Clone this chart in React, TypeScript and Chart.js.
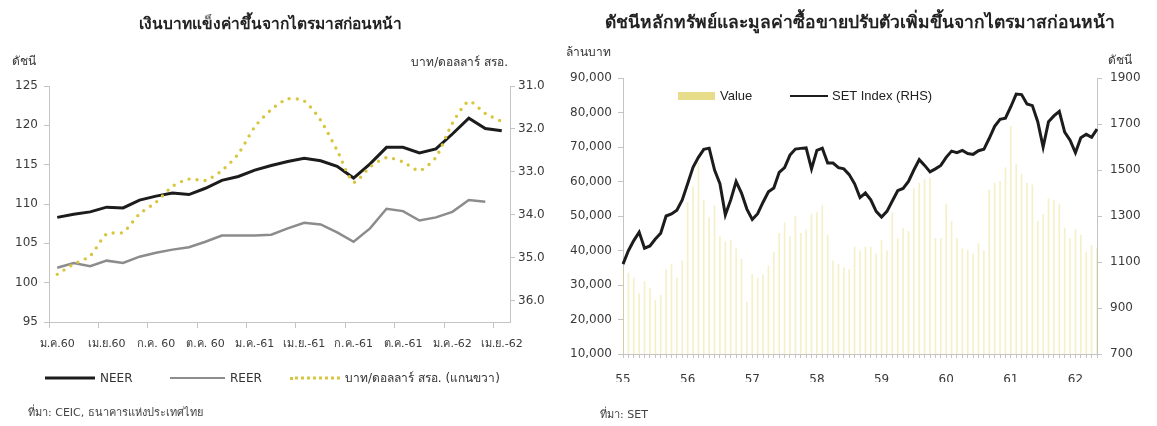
import React, { useEffect, useRef } from 'react';
import { Chart, registerables } from 'chart.js';
Chart.register(...registerables);

// ---------- Left chart data (monthly, Jan 2017 - Apr 2019) ----------
const leftMonths = [
  '2560-01','2560-02','2560-03','2560-04','2560-05','2560-06','2560-07','2560-08','2560-09','2560-10','2560-11','2560-12',
  '2561-01','2561-02','2561-03','2561-04','2561-05','2561-06','2561-07','2561-08','2561-09','2561-10','2561-11','2561-12',
  '2562-01','2562-02','2562-03','2562-04',
];
const leftTickLabels = ['ม.ค.60','เม.ย.60','ก.ค. 60','ต.ค. 60','ม.ค.-61','เม.ย.-61','ก.ค.-61','ต.ค.-61','ม.ค.-62','เม.ย.-62'];
const neer = [108.3,108.7,109.0,109.6,109.5,110.5,111.0,111.4,111.2,112.0,113.0,113.5,114.3,114.9,115.4,115.8,115.5,114.8,113.3,115.1,117.2,117.2,116.5,117.0,118.9,120.9,119.6,119.3];
const reer = [101.9,102.5,102.1,102.8,102.5,103.3,103.8,104.2,104.5,105.2,106.0,106.0,106.0,106.1,106.9,107.6,107.4,106.4,105.2,106.9,109.4,109.1,107.9,108.3,109.0,110.5,110.3,null];
const bahtUsd = [35.39,35.15,34.96,34.45,34.41,33.98,33.71,33.34,33.17,33.20,32.97,32.58,31.95,31.55,31.30,31.35,31.80,32.50,33.24,32.89,32.67,32.77,32.97,32.66,31.87,31.36,31.64,31.83];

// ---------- Right chart data (monthly, Jan 2555 - May 2562) ----------
const yearLabels = ['55','56','57','58','59','60','61','62'];
const monthNums = ['01','02','03','04','05','06','07','08','09','10','11','12'];
const tradeValue = [
  35000,33500,32000,27500,31000,29000,25500,27000,34500,36000,
  32000,37000,54000,58500,65500,54500,49500,53000,44000,42500,
  43000,40500,37500,25000,33000,32000,33000,35500,39500,45000,
  48000,44000,50000,45000,46000,50500,51000,53000,44500,37000,
  36000,35000,34500,41000,40000,41000,41000,39000,43000,40000,
  51000,43500,46500,45500,58000,59500,60500,61000,43500,43500,
  53500,48500,43500,40500,40000,39000,42000,40000,57500,59500,
  60000,64000,76000,65000,62000,59500,59000,48500,50500,55000,
  54500,53500,46500,43500,46000,44500,39500,41500,40500,
];
const setIndex = [
  1091,1149,1193,1230,1160,1170,1200,1225,1300,1309,
  1325,1370,1440,1512,1555,1590,1595,1500,1440,1305,
  1370,1450,1400,1330,1285,1310,1360,1405,1422,1490,
  1510,1565,1591,1594,1596,1505,1585,1595,1530,1530,
  1510,1505,1480,1440,1380,1400,1370,1320,1295,1320,
  1365,1410,1420,1450,1500,1545,1520,1492,1505,1520,
  1555,1582,1575,1585,1572,1568,1584,1590,1638,1690,
  1720,1725,1775,1830,1828,1787,1780,1710,1600,1710,
  1735,1755,1665,1630,1575,1640,1655,1642,1678,
];
const rightCategories = yearLabels
  .flatMap((y) => monthNums.map((m) => `${y}-${m}`))
  .slice(0, setIndex.length);

const AXIS = '#c4c4c4';
const TICK_COLOR = '#3a3a3a';
const NUM_FONT = "Tahoma, 'DejaVu Sans', sans-serif";

function LeftChart() {
  const ref = useRef<HTMLCanvasElement>(null);
  useEffect(() => {
    const chart = new Chart(ref.current!, {
      type: 'line',
      data: {
        labels: leftMonths,
        datasets: [
          { label: 'NEER', data: neer, yAxisID: 'y', borderColor: '#1c1c1c', borderWidth: 3, pointRadius: 0, tension: 0, order: 1 },
          { label: 'REER', data: reer, yAxisID: 'y', borderColor: '#8c8c8c', borderWidth: 2.5, pointRadius: 0, tension: 0, order: 2 },
          { label: 'บาท/ดอลลาร์ สรอ. (แกนขวา)', data: bahtUsd, yAxisID: 'y1', borderColor: '#d8c63e', borderWidth: 3.4, borderDash: [0, 8], borderCapStyle: 'round', pointRadius: 0, tension: 0.25, order: 0 },
        ],
      },
      options: {
        responsive: false,
        animation: false,
        layout: { padding: { top: 86, bottom: 74, left: 0, right: 0 } },
        plugins: { legend: { display: false }, title: { display: false }, tooltip: { enabled: false } },
        scales: {
          x: {
            type: 'category',
            offset: true,
            grid: {
              offset: true,
              drawOnChartArea: false,
              tickLength: 6,
              color: (ctx: any) => (typeof ctx.index === 'number' && ctx.index % 3 === 0 ? AXIS : 'rgba(0,0,0,0)'),
            },
            border: { color: AXIS },
            ticks: {
              autoSkip: false,
              maxRotation: 0,
              padding: 10,
              color: TICK_COLOR,
              font: { family: NUM_FONT, size: 11 },
              callback: (_v: any, i: number) => (i % 3 === 0 ? leftTickLabels[i / 3] : ''),
            },
            afterFit: (s: any) => { s.height = 30; },
          },
          y: {
            position: 'left',
            min: 95,
            max: 125,
            ticks: { stepSize: 5, padding: 6, color: TICK_COLOR, font: { family: NUM_FONT, size: 12 } },
            grid: { drawOnChartArea: false, tickLength: 5, color: AXIS },
            border: { color: AXIS },
            afterFit: (s: any) => { s.width = 49; },
          },
          y1: {
            position: 'right',
            reverse: true,
            min: 31,
            max: 36.5,
            ticks: {
              stepSize: 1,
              includeBounds: false,
              padding: 3,
              color: TICK_COLOR,
              font: { family: NUM_FONT, size: 12 },
              callback: (v: any) => (Number.isInteger(v) ? Number(v).toFixed(1) : ''),
            },
            grid: { drawOnChartArea: false, tickLength: 5, color: AXIS },
            border: { color: AXIS },
            afterFit: (s: any) => { s.width = 50; },
          },
        },
      } as any,
    });
    return () => chart.destroy();
  }, []);
  return <canvas ref={ref} width={560} height={426} style={{ position: 'absolute', left: 0, top: 0, width: 560, height: 426 }} />;
}

function RightChart() {
  const ref = useRef<HTMLCanvasElement>(null);
  useEffect(() => {
    const chart = new Chart(ref.current!, {
      type: 'bar',
      data: {
        labels: rightCategories,
        datasets: [
          { type: 'line', label: 'SET Index (RHS)', data: setIndex, yAxisID: 'y1', borderColor: '#1c1c1c', borderWidth: 3, pointRadius: 0, tension: 0, order: 0 },
          { type: 'bar', label: 'Value', data: tradeValue, yAxisID: 'y', backgroundColor: 'rgba(232,222,130,0.45)', barThickness: 1, order: 1 },
        ],
      },
      options: {
        responsive: false,
        animation: false,
        layout: { padding: { top: 78, bottom: 44, left: 0, right: 0 } },
        plugins: { legend: { display: false }, title: { display: false }, tooltip: { enabled: false } },
        scales: {
          x: {
            type: 'category',
            offset: false,
            grid: { offset: false, drawOnChartArea: false, tickLength: 4, color: AXIS },
            border: { color: AXIS },
            ticks: {
              autoSkip: false,
              maxRotation: 0,
              padding: 15,
              color: TICK_COLOR,
              font: { family: NUM_FONT, size: 12 },
              callback: (_v: any, i: number) => (i % 12 === 0 ? yearLabels[i / 12] : ''),
            },
            afterFit: (s: any) => { s.height = 28; },
          },
          y: {
            position: 'left',
            min: 10000,
            max: 90000,
            ticks: {
              stepSize: 10000,
              padding: 6,
              color: TICK_COLOR,
              font: { family: NUM_FONT, size: 12 },
              callback: (v: any) => Number(v).toLocaleString('en-US'),
            },
            grid: { drawOnChartArea: false, tickLength: 5, color: AXIS },
            border: { color: AXIS },
            afterFit: (s: any) => { s.width = 63; },
          },
          y1: {
            position: 'right',
            min: 700,
            max: 1900,
            ticks: {
              stepSize: 200,
              padding: 8,
              color: TICK_COLOR,
              font: { family: NUM_FONT, size: 12 },
              callback: (v: any) => String(v),
            },
            grid: { drawOnChartArea: false, tickLength: 5, color: AXIS },
            border: { color: AXIS },
            afterFit: (s: any) => { s.width = 60; },
          },
        },
      } as any,
    });
    return () => chart.destroy();
  }, []);
  return <canvas ref={ref} width={597} height={426} style={{ position: 'absolute', left: 560, top: 0, width: 597, height: 426 }} />;
}

type TProps = { x: number; y: number; align?: 'left' | 'center' | 'right'; size?: number; bold?: boolean; color?: string; family?: string; children: React.ReactNode };
function T({ x, y, align = 'left', size = 12, bold = false, color = '#333', family, children }: TProps) {
  const tx = align === 'center' ? '-50%' : align === 'right' ? '-100%' : '0';
  return (
    <div
      style={{
        position: 'absolute', left: x, top: y, transform: `translate(${tx}, -50%)`,
        fontSize: size, fontWeight: bold ? 700 : 400, color, whiteSpace: 'nowrap', lineHeight: 1.2,
        fontFamily: family ?? "Tahoma, 'DejaVu Sans', 'Noto Sans', sans-serif",
      }}
    >
      {children}
    </div>
  );
}

function LineSample({ x, y, w, style }: { x: number; y: number; w: number; style: React.CSSProperties }) {
  return <div style={{ position: 'absolute', left: x, top: y, width: w, height: 0, transform: 'translateY(-50%)', ...style }} />;
}

export default function App() {
  return (
    <div style={{ position: 'absolute', left: 0, top: 0, width: 1157, height: 426, background: '#fff', overflow: 'hidden' }}>
      <LeftChart />
      <RightChart />

      {/* Left chart texts */}
      <T x={270} y={24} align="center" size={15.5} bold color="#222">เงินบาทแข็งค่าขึ้นจากไตรมาสก่อนหน้า</T>
      <T x={12} y={61} size={12}>ดัชนี</T>
      <T x={508} y={62} align="right" size={12}>บาท/ดอลลาร์ สรอ.</T>

      <LineSample x={45} y={378} w={50} style={{ borderTop: '3px solid #1c1c1c' }} />
      <T x={100} y={378} size={12}>NEER</T>
      <LineSample x={170} y={378} w={55} style={{ borderTop: '2px solid #8c8c8c' }} />
      <T x={230} y={378} size={12}>REER</T>
      <LineSample x={290} y={378} w={50} style={{ borderTop: '3px dotted #d8c63e' }} />
      <T x={345} y={378} size={12}>บาท/ดอลลาร์ สรอ. (แกนขวา)</T>

      <T x={28} y={413} size={11} color="#444">ที่มา: CEIC, ธนาคารแห่งประเทศไทย</T>

      {/* Right chart texts */}
      <T x={860} y={22} align="center" size={17.5} bold color="#222">ดัชนีหลักทรัพย์และมูลค่าซื้อขายปรับตัวเพิ่มขึ้นจากไตรมาสก่อนหน้า</T>
      <T x={566} y={52} size={12}>ล้านบาท</T>
      <T x={1108} y={60} size={12}>ดัชนี</T>

      <div style={{ position: 'absolute', left: 678, top: 92, width: 37, height: 8, background: '#e6dc8a' }} />
      <T x={720} y={96} size={13} color="#222" family="'Liberation Sans', Arial, sans-serif">Value</T>
      <LineSample x={790} y={96} w={38} style={{ borderTop: '2.5px solid #1c1c1c' }} />
      <T x={832} y={96} size={13} color="#222" family="'Liberation Sans', Arial, sans-serif">SET Index (RHS)</T>

      <T x={600} y={415} size={11} color="#444">ที่มา: SET</T>
    </div>
  );
}
